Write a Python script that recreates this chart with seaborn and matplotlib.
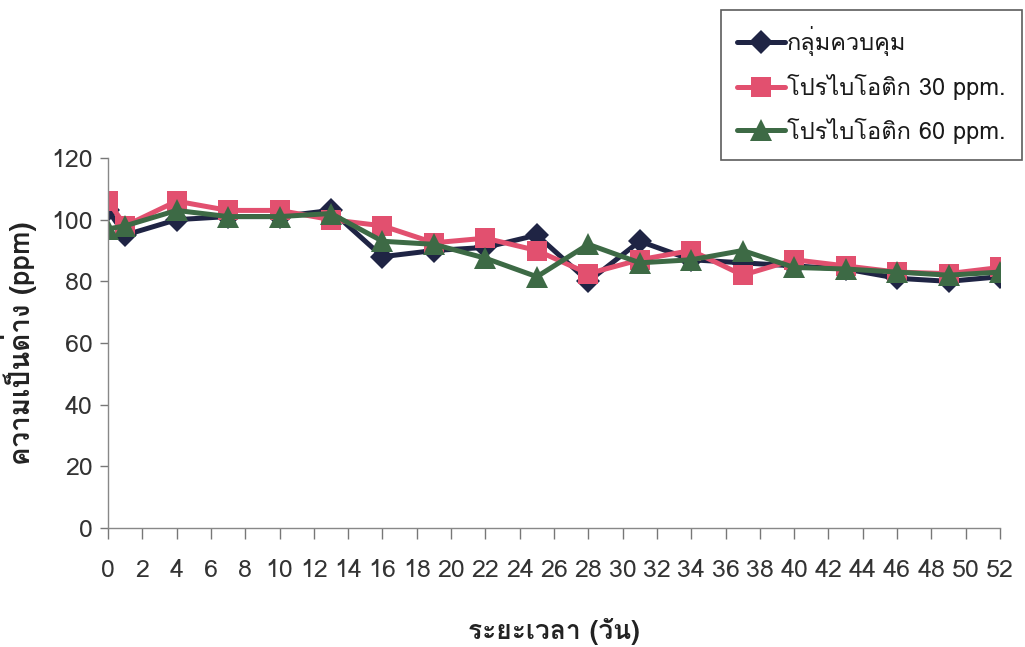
import matplotlib
matplotlib.use("Agg")
import matplotlib.pyplot as plt
from matplotlib import font_manager
from matplotlib.ft2font import FT2Font
import seaborn as sns
import pandas as pd

# Sampling days and measured alkalinity (ppm)
days = [0, 1, 4, 7, 10, 13, 16, 19, 22, 25, 28, 31, 34, 37, 40, 43, 46, 49, 52]
control = [103, 95, 100, 101, 101, 103, 88, 90, 91, 95, 80, 93, 87, 86, 85, 84, 81, 80, 81.5]
probiotic_30 = [106, 98, 106, 103, 103, 100, 98, 92.5, 94, 90, 82.5, 87, 90, 82, 87, 85, 83, 82.5, 84.5]
probiotic_60 = [97, 98, 103, 101, 101, 102, 93, 92, 87.5, 81.5, 92, 86, 87, 90, 84.5, 84, 83, 82, 83]

series_names = ["กลุ่มควบคุม", "โปรไบโอติก 30 ppm.", "โปรไบโอติก 60 ppm."]
x_ticks = list(range(0, 53, 2))
y_ticks = list(range(0, 121, 20))
x_label = "ระยะเวลา (วัน)"
y_label = "ความเป็นด่าง (ppm)"


def installed(name):
    return any(f.name == name for f in font_manager.fontManager.ttflist)


def thai_family():
    for f in font_manager.fontManager.ttflist:
        try:
            cmap = FT2Font(f.fname).get_charmap()
        except Exception:
            continue
        if 0x0E01 in cmap and 0x0E32 in cmap:
            return f.name
    return None


sns.set_theme(style="white")
families = []
if installed("Liberation Sans Narrow"):
    families.append("Liberation Sans Narrow")
th = thai_family()
if th:
    families.append(th)
families += ["Liberation Sans", "DejaVu Sans"]
plt.rcParams["font.family"] = families

fig = plt.figure(figsize=(10.25, 6.47), dpi=100)
ax = fig.add_axes([0.1054, 0.1839, 0.8702, 0.5719])

df = pd.DataFrame({"day": days, "c": control, "p30": probiotic_30, "p60": probiotic_60})

styles = [
    ("c", "#1f2444", "D", 12),
    ("p30", "#e2506f", "s", 14),
    ("p60", "#3d6a45", "^", 16),
]
for (col, color, marker, ms), name in zip(styles, series_names):
    sns.lineplot(data=df, x="day", y=col, ax=ax, color=color, marker=marker,
                 markersize=ms, markeredgewidth=0, linewidth=3.6, label=name)

ax.set_xlim(0, 52)
ax.set_ylim(0, 120)
ax.set_xticks(x_ticks)
ax.set_yticks(y_ticks)
ax.tick_params(axis="both", direction="out", colors="#777777", labelcolor="#333333",
               labelsize=18, width=1)
ax.tick_params(axis="x", length=8, pad=14)
ax.tick_params(axis="y", length=6, pad=5)
ax.tick_params(left=True, bottom=True)
for side in ("top", "right"):
    ax.spines[side].set_visible(False)
for side in ("left", "bottom"):
    ax.spines[side].set_color("#888888")
    ax.spines[side].set_linewidth(1)

ax.set_xlabel(x_label, fontsize=19, fontweight="bold", color="#222222", labelpad=26)
ax.set_ylabel(y_label, fontsize=20, fontweight="bold", color="#222222", labelpad=10)

ax.get_legend().remove()
handles, labels = ax.get_legend_handles_labels()
leg = fig.legend(handles, labels, loc="upper right", bbox_to_anchor=(0.997, 0.985),
                 frameon=True, fancybox=False, fontsize=17, handlelength=2.0,
                 handletextpad=0.1, labelspacing=0.75, borderpad=0.7, borderaxespad=0)
leg.get_frame().set_edgecolor("#333333")
leg.get_frame().set_linewidth(1.2)
for t in leg.get_texts():
    t.set_color("#1a1a1a")

fig.savefig("out.png", dpi=100)
